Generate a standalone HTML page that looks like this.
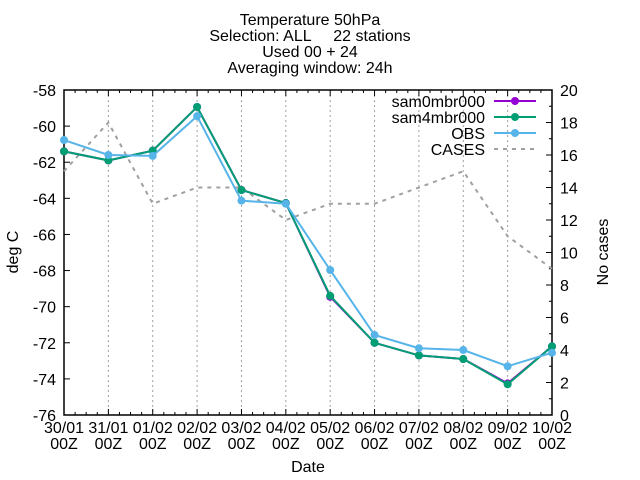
<!DOCTYPE html>
<html><head><meta charset="utf-8"><style>
body{margin:0;background:#fff}
svg{display:block;font-family:"Liberation Sans",sans-serif}
text{white-space:pre}
</style></head><body>
<svg id="c" width="640" height="480" xmlns="http://www.w3.org/2000/svg"></svg>
<script>
const categories=["30/01","31/01","01/02","02/02","03/02","04/02","05/02","06/02","07/02","08/02","09/02","10/02"];
const sam0=[-61.4,-61.9,-61.36,-58.94,-63.54,-64.26,-69.45,-72.0,-72.7,-72.9,-74.25,-72.2];
const sam4=[-61.4,-61.9,-61.36,-58.94,-63.54,-64.26,-69.4,-72.0,-72.7,-72.9,-74.3,-72.2];
const obs=[-60.77,-61.6,-61.65,-59.45,-64.13,-64.3,-67.97,-71.57,-72.3,-72.4,-73.3,-72.55];
const cases=[15,18,13,14,14,12,13,13,14,15,11,9];
const yTicks=[-58,-60,-62,-64,-66,-68,-70,-72,-74,-76];
const y2Ticks=[0,2,4,6,8,10,12,14,16,18,20];

const L=64,R=552,T=90,B=415;
const FS=16;
const NS="http://www.w3.org/2000/svg";
const svg=document.getElementById('c');
const x=i=>L+(R-L)*i/(categories.length-1);
const y=v=>T+(B-T)*(-58-v)/18;
const y2=v=>B-(B-T)*v/20;
function mk(tag,attrs,parent){const e=document.createElementNS(NS,tag);for(const k in attrs)e.setAttribute(k,attrs[k]);(parent||svg).appendChild(e);return e;}
function txt(s,xx,yy,anchor,size,parent){const t=mk('text',{x:xx,y:yy,'text-anchor':anchor||'middle','font-size':size||FS,fill:'#000'},parent);t.textContent=s;return t;}

const titles=["Temperature 50hPa","Selection: ALL     22 stations","Used 00 + 24","Averaging window: 24h"];
titles.forEach((s,i)=>{const t=txt(s,310,25+i*16,'middle',FS);

});

const grid=mk('g',{stroke:'#a0a0a0','stroke-width':1,'stroke-dasharray':'2,3'});


yTicks.forEach(v=>{if(v>-58&&v>-76)mk('line',{x1:L,x2:R,y1:y(v),y2:y(v)},grid);});
categories.forEach((c,i)=>{if(i>0&&i<categories.length-1)mk('line',{x1:x(i),x2:x(i),y1:T,y2:B},grid);});

const frame=mk('rect',{x:L,y:T,width:R-L,height:B-T,fill:'none',stroke:'#000','stroke-width':1.5});



const ticks=mk('g',{stroke:'#000','stroke-width':1});
yTicks.forEach(v=>{mk('line',{x1:L,x2:L+6,y1:y(v),y2:y(v)},ticks);
const t=txt(String(v),L-8,y(v)+6,'end',FS);

});
y2Ticks.forEach(v=>{mk('line',{x1:R,x2:R-6,y1:y2(v),y2:y2(v)},ticks);
if(v<20)mk('line',{x1:R,x2:R-3,y1:y2(v+1),y2:y2(v+1)},ticks);
const t=txt(String(v),R+8,y2(v)+6,'start',FS);

});
categories.forEach((c,i)=>{mk('line',{x1:x(i),x2:x(i),y1:B,y2:B-6},ticks);mk('line',{x1:x(i),x2:x(i),y1:T,y2:T+6},ticks);
if(i<categories.length-1)for(let k=1;k<4;k++){const xx=x(i)+(x(i+1)-x(i))*k/4;mk('line',{x1:xx,x2:xx,y1:B,y2:B-3},ticks);mk('line',{x1:xx,x2:xx,y1:T,y2:T+3},ticks);}
const t=txt(c,x(i),433,'middle',FS);


const t2=txt('00Z',x(i),449,'middle',FS);

});

const xt=txt('Date',308,472,'middle',FS);


const yt=txt('deg C',0,0,'middle',FS);yt.setAttribute('transform','translate(18,252) rotate(-90)');


const y2t=txt('No cases',0,0,'middle',FS);y2t.setAttribute('transform','translate(608,252) rotate(-90)');



const cp=mk('polyline',{points:cases.map((v,i)=>x(i)+','+y2(v)).join(' '),fill:'none',stroke:'#a0a0a0','stroke-width':2,'stroke-dasharray':'4,5'});



function series(arr,color,name){
const g=mk('g',{});


mk('polyline',{points:arr.map((v,i)=>x(i)+','+y(v)).join(' '),fill:'none',stroke:color,'stroke-width':2},g);
arr.forEach((v,i)=>{const m=mk('circle',{cx:x(i),cy:y(v),r:4,fill:color},g);

});
}
series(sam0,'#9400d3','sam0mbr000-series');
series(sam4,'#009e73','sam4mbr000-series');
series(obs,'#56b4e9','obs-series');

const lg=mk('g',{});


const items=[["sam0mbr000",'#9400d3',0],["sam4mbr000",'#009e73',0],["OBS",'#56b4e9',0],["CASES",'#a0a0a0',1]];
items.forEach((it,i)=>{const yy=101+i*16;
const t=txt(it[0],485,yy+6,'end',FS,lg);


if(it[2])mk('line',{x1:494,x2:536,y1:yy,y2:yy,stroke:it[1],'stroke-width':2,'stroke-dasharray':'4,5'},lg);
else{mk('line',{x1:494,x2:536,y1:yy,y2:yy,stroke:it[1],'stroke-width':2},lg);mk('circle',{cx:515,cy:yy,r:4,fill:it[1]},lg);}
});
</script>
</body></html>
